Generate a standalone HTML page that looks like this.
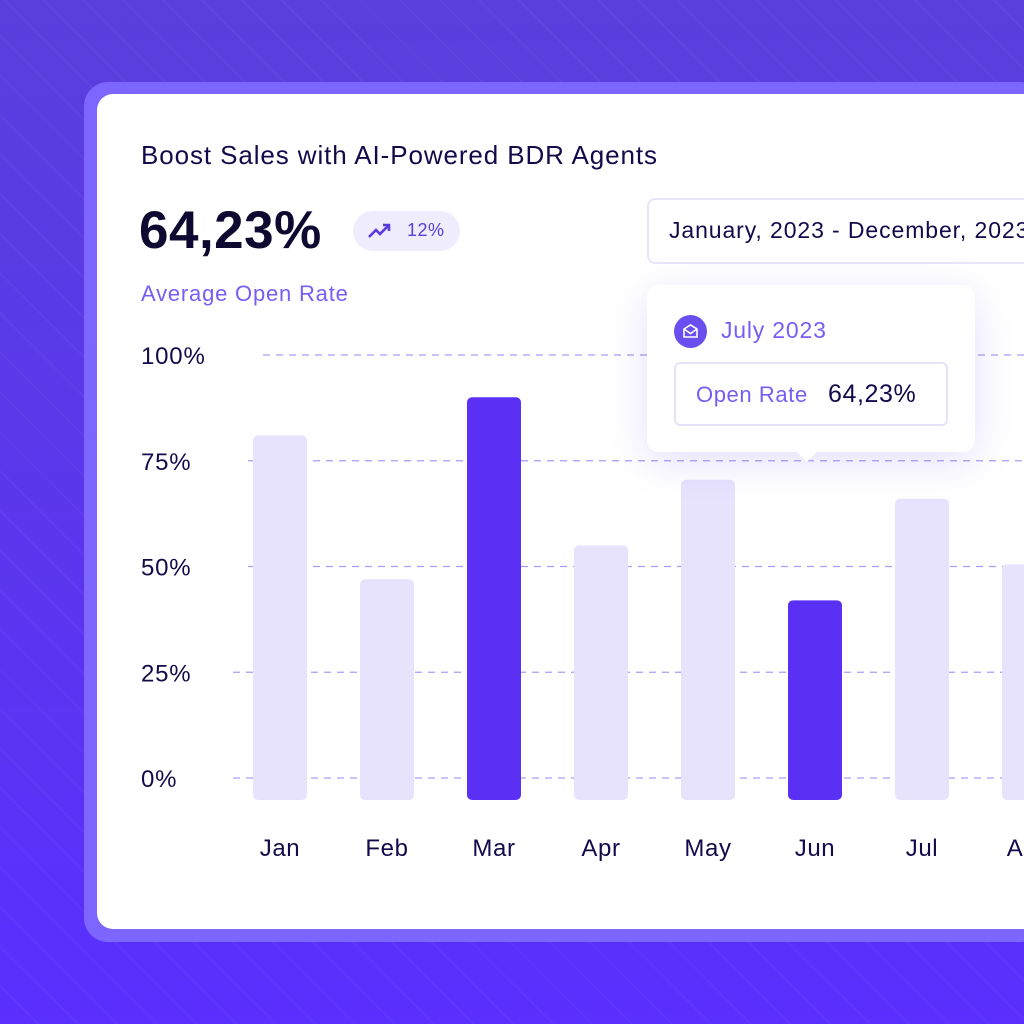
<!DOCTYPE html>
<html><head><meta charset="utf-8"><style>
html,body{margin:0;width:1024px;height:1024px;overflow:hidden;}
body{font-family:"Liberation Sans",sans-serif;position:relative;}
#clip{position:absolute;left:0;top:0;width:1024px;height:1024px;overflow:hidden;}
#bg{position:absolute;left:0;top:0;width:1024px;height:1024px;background:linear-gradient(180deg,#5a3fdc 0%,#5b35f0 60%,#5a2fff 100%);}
#bg:after{content:"";position:absolute;inset:0;background:repeating-linear-gradient(45deg,rgba(255,255,255,0) 0 26px,rgba(255,255,255,0.03) 26px 28px);}
#frame{position:absolute;left:84px;top:82px;width:960px;height:860px;border-radius:24px;background:#7c66ff;}
#card{position:absolute;left:97px;top:94px;width:950px;height:835px;border-radius:16px;background:#fff;}
.t{position:absolute;white-space:nowrap;}
</style></head><body><div id="clip">
<div id="bg"></div>
<div id="frame"></div>
<div id="card"></div>
<div class="t" style="left:141px;top:140px;font-size:26px;letter-spacing:0.9px;color:#120a4a;">Boost Sales with AI-Powered BDR Agents</div>
<div class="t" style="left:139px;top:200px;font-size:53px;font-weight:bold;color:#0e0930;letter-spacing:0.5px;">64,23%</div>
<div style="position:absolute;left:353px;top:211px;width:107px;height:40px;border-radius:20px;background:#efecfd;">
<svg style="position:absolute;left:14px;top:10px" width="26" height="20" viewBox="0 0 26 20"><path d="M2 16 L9 9 L13 13 L22 4 M16 4 H22 V10" stroke="#5a3bdc" stroke-width="2.6" fill="none"/></svg>
<span class="t" style="left:54px;top:9px;font-size:18px;letter-spacing:0.5px;color:#5a3bdc;">12%</span></div>
<div class="t" style="left:141px;top:281px;font-size:22px;letter-spacing:0.8px;color:#7a5cf5;">Average Open Rate</div>
<div style="position:absolute;left:647px;top:198px;width:400px;height:62px;border:2px solid #e8e5fb;border-radius:8px;background:#fff;">
<span class="t" style="left:20px;top:17px;font-size:23px;letter-spacing:0.9px;color:#120a4a;">January, 2023 - December, 2023</span></div>
<svg id="chart" width="1024" height="1024" style="position:absolute;left:0;top:0"></svg>
<div style="position:absolute;left:647px;top:285px;width:328px;height:167px;background:#fff;border-radius:12px;box-shadow:0 10px 40px rgba(110,80,240,0.18);">
<div style="position:absolute;left:153px;top:160px;width:14px;height:14px;background:#fff;transform:rotate(45deg);"></div>
<div style="position:absolute;left:27px;top:30px;width:33px;height:33px;border-radius:50%;background:#6a4ef0;">
<svg width="33" height="33"><path d="M10 14 L16.5 10 L23 14 V22 H10 Z M10 14 L16.5 18.5 L23 14" stroke="#fff" stroke-width="1.6" fill="none"/></svg></div>
<span class="t" style="left:74px;top:32px;font-size:23px;letter-spacing:0.8px;color:#7a5cf5;">July 2023</span>
<div style="position:absolute;left:27px;top:77px;width:270px;height:60px;border:2px solid #e6e2fb;border-radius:6px;">
<span class="t" style="left:20px;top:18px;font-size:22px;letter-spacing:0.6px;color:#7a5cf5;">Open Rate</span>
<span class="t" style="left:152px;top:16px;font-size:25px;letter-spacing:0.6px;color:#120a4a;">64,23%</span></div>
</div>
</div>
<script>
const categories=["Jan","Feb","Mar","Apr","May","Jun","Jul","Aug"];
const values=[81,47,90,55,70.5,42,66,50.5];
const highlighted=[false,false,true,false,false,true,false,false];
const ticks=[0,25,50,75,100];
const tickLabels=["0%","25%","50%","75%","100%"];
const NS="http://www.w3.org/2000/svg";
const svg=document.getElementById("chart");
const y=v=>778-v*4.23;
const x=i=>280+i*107;
const base=800;
ticks.forEach((t,i)=>{
  const ln=document.createElementNS(NS,"line");
  
  
  const x0=t===100?263:(t>=50?248:233);
  ln.setAttribute("x1",x0);ln.setAttribute("x2",1024);ln.setAttribute("y1",y(t));ln.setAttribute("y2",y(t));
  ln.setAttribute("stroke","#a99cf5");ln.setAttribute("stroke-width","1.3");ln.setAttribute("stroke-dasharray","7 6");
  svg.appendChild(ln);
  const tx=document.createElementNS(NS,"text");
  
  
  tx.setAttribute("x",141);tx.setAttribute("y",y(t)+9);tx.setAttribute("font-size","24");tx.setAttribute("fill","#120a4a");
  tx.setAttribute("letter-spacing","0.8");
  tx.setAttribute("font-family","Liberation Sans, sans-serif");
  tx.textContent=tickLabels[i];svg.appendChild(tx);
});
values.forEach((v,i)=>{
  const r=document.createElementNS(NS,"rect");
  
  
  r.setAttribute("x",x(i)-27);r.setAttribute("width",54);r.setAttribute("y",y(v));r.setAttribute("height",base-y(v));
  r.setAttribute("rx",5);r.setAttribute("fill",highlighted[i]?"#5a30f5":"#e7e3fd");
  svg.appendChild(r);
  const tx=document.createElementNS(NS,"text");
  
  
  tx.setAttribute("x",x(i));tx.setAttribute("y",856);tx.setAttribute("text-anchor","middle");tx.setAttribute("font-size","24");
  tx.setAttribute("letter-spacing","0.6");
  tx.setAttribute("fill","#120a4a");tx.setAttribute("font-family","Liberation Sans, sans-serif");
  tx.textContent=categories[i];svg.appendChild(tx);
});
</script>
</body></html>
